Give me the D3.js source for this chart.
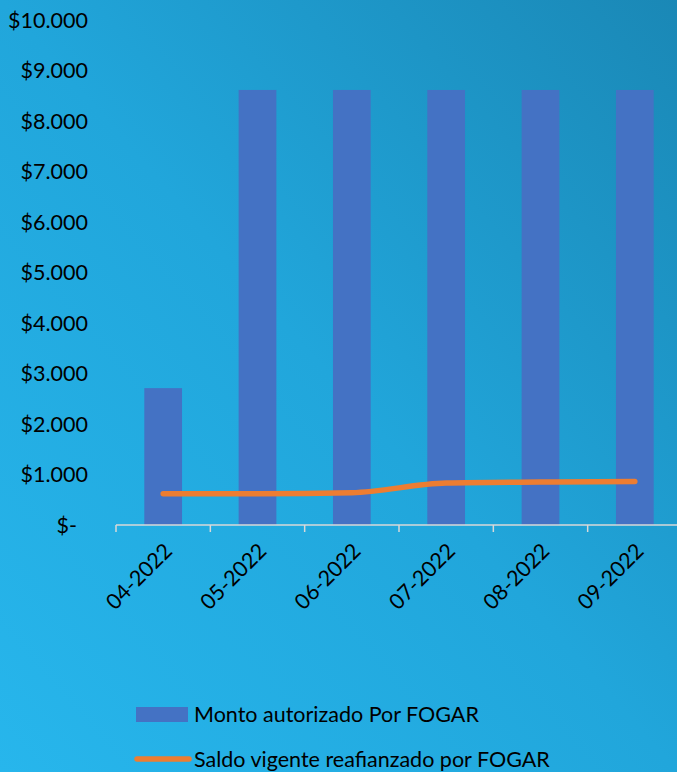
<!DOCTYPE html>
<html><head><meta charset="utf-8">
<script src="https://cdn.jsdelivr.net/npm/d3@7"></script>
<style>body{margin:0;padding:0;overflow:hidden}svg{display:block}text{font-family:Lato,"Open Sans",sans-serif;fill:#000}</style>
</head><body>
<script>
const categories = ["04-2022","05-2022","06-2022","07-2022","08-2022","09-2022"];
const montoAutorizado = [2710, 8615, 8615, 8615, 8615, 8615];
const saldoVigente = [620, 620, 640, 830, 850, 860];
const yTicks = [0,1000,2000,3000,4000,5000,6000,7000,8000,9000,10000];
const seriesNames = ["Monto autorizado Por FOGAR","Saldo vigente reafianzado por FOGAR"];

const W=677,H=772;
const svg=d3.select("body").append("svg").attr("width",W).attr("height",H);
const defs=svg.append("defs");
const g=defs.append("linearGradient").attr("id","bg").attr("x1","0").attr("y1","1").attr("x2","1").attr("y2","0");
g.append("stop").attr("offset","0").attr("stop-color","#27b6ec");
g.append("stop").attr("offset","0.5").attr("stop-color","#21a6db");
g.append("stop").attr("offset","1").attr("stop-color","#1a88b6");
svg.append("rect").attr("width",W).attr("height",H).attr("fill","url(#bg)");

const FS="21.5px";
const x=d3.scaleBand().domain(categories).range([116,682]).paddingInner(0.6).paddingOuter(0.3);
const xAxisScale=d3.scaleBand().domain(categories).range([116,682]);
const y=d3.scaleLinear().domain([0,10000]).range([525,20]);

const fmt=v=> v===0 ? "$-" : "$"+d3.format(",")(v).replace(/,/g,".");
svg.append("g").selectAll("text").data(yTicks).join("text")
  .attr("x",d=>d===0?77:88).attr("y",d=>y(d)).attr("dy","0.35em")
  .attr("text-anchor","end").style("font-size",FS).text(fmt);

svg.append("g").selectAll("rect").data(categories).join("rect")
  .attr("x",d=>x(d)).attr("width",x.bandwidth())
  .attr("y",(d,i)=>y(montoAutorizado[i])).attr("height",(d,i)=>y(0)-y(montoAutorizado[i]))
  .attr("fill","#4472c4");

const ax=svg.append("g").attr("transform","translate(0,525)");
ax.append("line").attr("x1",116).attr("x2",682).attr("y1",0).attr("y2",0).attr("stroke","#d9d9d9").attr("stroke-width",1.5);
const tickPos=categories.map(c=>xAxisScale(c)).concat([xAxisScale.range()[1]]);
ax.selectAll("line.t").data(tickPos).join("line").attr("class","t")
  .attr("x1",d=>d).attr("x2",d=>d).attr("y1",0).attr("y2",7).attr("stroke","#d9d9d9").attr("stroke-width",1.5);
ax.selectAll("text").data(categories).join("text")
  .attr("transform",d=>`translate(${xAxisScale(d)+xAxisScale.bandwidth()/2+5},${22}) rotate(-45)`)
  .attr("text-anchor","end").attr("dy","0.35em").style("font-size",FS).text(d=>d);

const line=d3.line().x((d,i)=>x(categories[i])+x.bandwidth()/2).y(d=>y(d)).curve(d3.curveMonotoneX);
svg.append("path").datum(saldoVigente).attr("d",line).attr("fill","none")
  .attr("stroke","#ed7d31").attr("stroke-width",5.5).attr("stroke-linecap","round");

const lg=svg.append("g");
lg.append("rect").attr("x",136).attr("y",707).attr("width",52).attr("height",15).attr("fill","#4472c4");
lg.append("text").attr("x",194).attr("y",722).style("font-size",FS).text(seriesNames[0]);
lg.append("line").attr("x1",137).attr("x2",189).attr("y1",759).attr("y2",759).attr("stroke","#ed7d31").attr("stroke-width",5.5).attr("stroke-linecap","round");
lg.append("text").attr("x",194).attr("y",767).style("font-size",FS).text(seriesNames[1]);
</script>
</body></html>
